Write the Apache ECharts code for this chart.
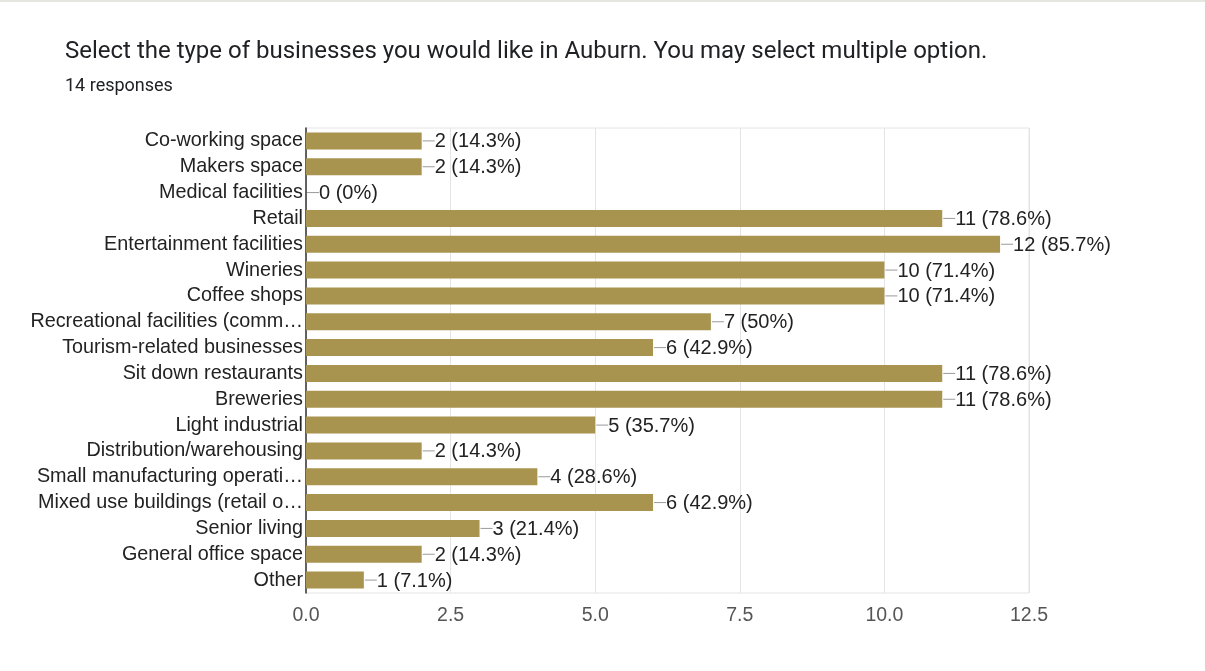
<!DOCTYPE html>
<html>
<head>
<meta charset="utf-8">
<script src="https://cdn.jsdelivr.net/npm/echarts@6/dist/echarts.min.js"></script>
<style>
  html, body { margin: 0; padding: 0; background: #ffffff; }
  body { border-top: 2px solid #e6e6e0; box-sizing: border-box; }
  #chart { width: 1205px; height: 669px; }
</style>
</head>
<body>
<div id="chart"></div>
<script>
const title = 'Select the type of businesses you would like in Auburn. You may select multiple option.';
const subtitle = '14 responses';
const totalResponses = 14;

const categories = [
  'Co-working space',
  'Makers space',
  'Medical facilities',
  'Retail',
  'Entertainment facilities',
  'Wineries',
  'Coffee shops',
  'Recreational facilities (comm\u2026',
  'Tourism-related businesses',
  'Sit down restaurants',
  'Breweries',
  'Light industrial',
  'Distribution/warehousing',
  'Small manufacturing operati\u2026',
  'Mixed use buildings (retail o\u2026',
  'Senior living',
  'General office space',
  'Other'
];

const counts = [2, 2, 0, 11, 12, 10, 10, 7, 6, 11, 11, 5, 2, 4, 6, 3, 2, 1];

const xTicks = [0, 2.5, 5, 7.5, 10, 12.5];

// "n (p%)" with one decimal, trailing ".0" dropped
function pctText(n) {
  let p = (n / totalResponses * 100).toFixed(1);
  if (p.endsWith('.0')) p = p.slice(0, -2);
  return n + ' (' + p + '%)';
}

const chart = echarts.init(document.getElementById('chart'), null, { renderer: 'canvas' });

chart.setOption({
  backgroundColor: '#ffffff',
  animation: false,
  title: [
    {
      text: title,
      left: 60, top: 33,
      textStyle: { fontFamily: 'Roboto', fontSize: 24, fontWeight: 'normal', color: '#202124' }
    },
    {
      text: subtitle,
      left: 60, top: 70,
      textStyle: { fontFamily: 'Roboto', fontSize: 18, fontWeight: 'normal', color: '#202124' }
    }
  ],
  grid: {
    left: 306, right: 176, top: 126, height: 465,
    show: true, borderColor: '#e4e4e4', borderWidth: 1
  },
  xAxis: {
    type: 'value',
    min: xTicks[0], max: xTicks[xTicks.length - 1], interval: xTicks[1] - xTicks[0],
    axisLine: { show: false },
    axisTick: { show: false },
    splitLine: { lineStyle: { color: '#e4e4e4', width: 1 } },
    axisLabel: {
      margin: 13,
      fontFamily: 'Liberation Sans', fontSize: 19.5, color: '#555555',
      formatter: v => v.toFixed(1)
    }
  },
  yAxis: {
    type: 'category',
    data: categories,
    inverse: true,
    axisLine: { show: true, lineStyle: { color: '#333333', width: 1.5 } },
    axisTick: { show: false },
    splitLine: { show: false },
    axisLabel: {
      interval: 0,
      margin: 3,
      fontFamily: 'Liberation Sans', fontSize: 19.8, color: '#222222'
    }
  },
  series: [
    {
      type: 'bar',
      data: counts,
      barWidth: 17,
      itemStyle: { color: '#a8944f' },
      silent: true
    },
    {
      // value labels with a short leader line from the bar end
      type: 'custom',
      silent: true,
      data: counts.map((v, i) => [v, i]),
      encode: { x: 0, y: 1 },
      renderItem: function (params, api) {
        const v = api.value(0);
        const i = api.value(1);
        const p = api.coord([v, i]);
        return {
          type: 'group',
          children: [
            {
              type: 'line',
              shape: { x1: p[0] + 1, y1: p[1], x2: p[0] + 13, y2: p[1] },
              style: { stroke: '#9a9a9a', lineWidth: 1 }
            },
            {
              type: 'text',
              x: p[0] + 13, y: p[1] + 1,
              style: {
                text: pctText(counts[i]),
                fill: '#222222',
                font: '20px "Liberation Sans"',
                verticalAlign: 'middle',
                align: 'left'
              }
            }
          ]
        };
      },
      z: 5
    }
  ]
});
</script>
</body>
</html>
